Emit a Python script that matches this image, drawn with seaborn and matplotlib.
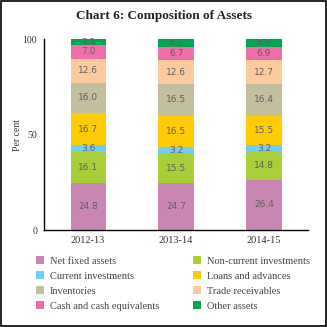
import matplotlib
matplotlib.use("Agg")
import matplotlib.pyplot as plt
import seaborn as sns
import numpy as np
import pandas as pd
from matplotlib.patches import Rectangle, Patch

years = ["2012-13", "2013-14", "2014-15"]
series_names = ["Net fixed assets", "Non-current investments", "Current investments",
                "Loans and advances", "Inventories", "Trade receivables",
                "Cash and cash equivalents", "Other assets"]
net_fixed = [24.8, 24.7, 26.4]
non_current = [16.1, 15.5, 14.8]
current_inv = [3.6, 3.2, 3.2]
loans = [16.7, 16.5, 15.5]
inventories = [16.0, 16.5, 16.4]
trade = [12.6, 12.6, 12.7]
cash = [7.0, 6.7, 6.9]
other = [3.1, 4.2, 4.0]
yticks = [0, 50, 100]

values = [net_fixed, non_current, current_inv, loans, inventories, trade, cash, other]
colors = ["#C986B3", "#A8CF3A", "#6ECFF6", "#FFCB05", "#C3BE9E", "#FCCB9D", "#F06FA9", "#00A650"]

sns.set_style("white")
plt.rcParams['font.family'] = ['Liberation Serif', 'DejaVu Serif']

fig = plt.figure(figsize=(3.27, 3.27), dpi=100)
ax = fig.add_axes([0.135, 0.2966, 0.807, 0.584])

bottom = np.zeros(len(years))
for name, vals, col in zip(series_names, values, colors):
    df = pd.DataFrame({"year": years, "value": vals})
    sns.barplot(data=df, x="year", y="value", bottom=bottom, color=col, width=0.4,
                saturation=1, ax=ax, label=name, linewidth=0)
    for i, v in enumerate(vals):
        ax.text(i, bottom[i] + v / 2, f"{v:.1f}", ha="center", va="center",
                fontsize=6.5, color="#606060", family="DejaVu Sans")
    bottom = bottom + np.array(vals)

ax.set_xlim(-0.5, 2.5)
ax.set_ylim(0, 100)
ax.set_yticks(yticks)
ax.set_yticklabels([str(t) for t in yticks], fontsize=7, color="#333333")
ax.set_xticks(range(len(years)))
ax.set_xticklabels(years, fontsize=7.5, color="#333333")
ax.set_xticks([-0.5, 0.5, 1.5, 2.5], minor=True)
ax.tick_params(axis="x", which="major", length=0, pad=4)
ax.tick_params(axis="x", which="minor", length=4, width=0.8, color="black", direction="out")
ax.tick_params(axis="y", which="major", length=4, width=0.8, color="black", direction="out", pad=1)
ax.set_xlabel("")
ax.set_ylabel("Per cent", fontsize=7, color="#333333")
ax.yaxis.set_label_coords(-0.085, 0.5)
sns.despine(ax=ax, top=True, right=True)
for s in ["left", "bottom"]:
    ax.spines[s].set_color("black")
    ax.spines[s].set_linewidth(1.0)
if ax.get_legend() is not None:
    ax.get_legend().remove()

order = [0, 2, 4, 6, 1, 3, 5, 7]
handles = [Patch(facecolor=colors[i], edgecolor="none") for i in order]
labels = [series_names[i] for i in order]
fig.legend(handles, labels, ncol=2, loc="upper left", bbox_to_anchor=(0.095, 0.232),
           frameon=False, fontsize=7.5, handlelength=0.7, handleheight=0.7,
           handletextpad=0.6, columnspacing=3.3, labelspacing=0.55,
           labelcolor="#444444", borderpad=0)

fig.text(0.5, 0.952, "Chart 6: Composition of Assets", ha="center", va="center",
         fontsize=9.5, fontweight="bold", color="#222222")
fig.patches.append(Rectangle((0.002, 0.002), 0.996, 0.996, transform=fig.transFigure,
                             fill=False, edgecolor="black", linewidth=1.2))

fig.savefig("out.png", dpi=100)
